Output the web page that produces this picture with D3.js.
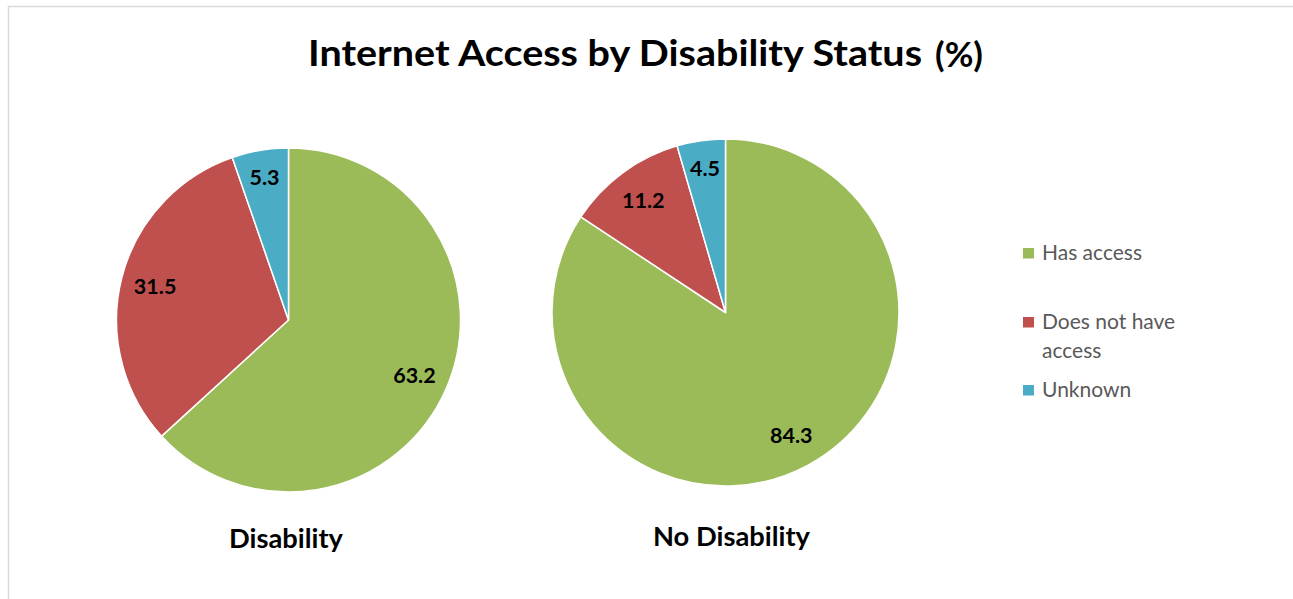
<!DOCTYPE html>
<html>
<head>
<meta charset="utf-8">
<script src="https://cdn.jsdelivr.net/npm/d3@7"></script>
<style>
  body { margin: 0; background: #fff; }
  svg { display: block; }
</style>
</head>
<body>
<svg id="chart" width="1293" height="599"></svg>
<script>
// Internet access shares (%) for each group
const categories = ["Has access", "Does not have access", "Unknown"];
const groups = ["Disability", "No Disability"];
const disabilityValues = [63.2, 31.5, 5.3];
const noDisabilityValues = [84.3, 11.2, 4.5];
const seriesColors = ["#9BBB59", "#C0504D", "#4BACC6"];
const legendLines = [["Has access"], ["Does not have", "access"], ["Unknown"]];
const titleText = "Internet Access by Disability Status";
const titleUnit = "(%)";

const svg = d3.select("#chart");
const font = "Lato, 'Open Sans', sans-serif";

// Chart area frame (light gray, open to the right and bottom)
svg.append("path")
  .attr("d", "M8.5,599 V6.5 H1293")
  .attr("fill", "none")
  .attr("stroke", "#d9d9d9")
  .attr("stroke-width", 1.5);

// Stretch/compress a text element to a given width
function fitWidth(sel, w) {
  const len = sel.node().getComputedTextLength();
  if (len > 0) sel.attr("textLength", w).attr("lengthAdjust", "spacingAndGlyphs");
}

// Title
const t1 = svg.append("text")
  .attr("x", 308).attr("y", 66)
  .attr("font-family", font).attr("font-weight", 700)
  .attr("font-size", 37).attr("fill", "#000")
  .text(titleText);
fitWidth(t1, 614);
const t2 = svg.append("text")
  .attr("x", 935).attr("y", 67)
  .attr("font-family", font).attr("font-weight", 700)
  .attr("font-size", 34).attr("fill", "#000")
  .text(titleUnit);
fitWidth(t2, 48);

const color = d3.scaleOrdinal().domain(categories).range(seriesColors);

const pie = d3.pie().sort(null).value(d => d.value);

const pies = [
  { name: groups[0], values: disabilityValues, cx: 288.5, cy: 320, r: 172, labelY: 548, labelW: 114, labelX: 286 },
  { name: groups[1], values: noDisabilityValues, cx: 725.5, cy: 312.5, r: 173.5, labelY: 546, labelW: 157, labelX: 731.5 }
];

pies.forEach(p => {
  const data = categories.map((c, i) => ({ category: c, value: p.values[i] }));
  const arcs = pie(data);
  const arc = d3.arc().innerRadius(0).outerRadius(p.r);
  const labelArc = d3.arc().innerRadius(p.r * 0.8).outerRadius(p.r * 0.8);

  const g = svg.append("g").attr("transform", `translate(${p.cx},${p.cy})`);

  g.selectAll("path.slice")
    .data(arcs)
    .join("path")
    .attr("class", "slice")
    .attr("d", arc)
    .attr("fill", d => color(d.data.category))
    .attr("stroke", "#fff")
    .attr("stroke-width", 1.5)
    .attr("stroke-linejoin", "round");

  g.selectAll("text.value")
    .data(arcs)
    .join("text")
    .attr("class", "value")
    .attr("transform", d => {
      const [x, y] = labelArc.centroid(d);
      const extra = d.data.value < 6 ? 1.05 : 1;
      return `translate(${x * extra},${y * extra})`;
    })
    .attr("text-anchor", "middle")
    .attr("dy", "0.36em")
    .attr("font-family", font)
    .attr("font-weight", 700)
    .attr("font-size", 21.5)
    .attr("fill", "#000")
    .text(d => d3.format(".1f")(d.data.value));

  const cap = svg.append("text")
    .attr("x", p.labelX - p.labelW / 2).attr("y", p.labelY)
    .attr("font-family", font).attr("font-weight", 700)
    .attr("font-size", 26).attr("fill", "#000")
    .text(p.name);
  fitWidth(cap, p.labelW);
});

// Legend
const legendBaselines = [260, 329, 397];
const legend = svg.append("g");
categories.forEach((c, i) => {
  const base = legendBaselines[i];
  legend.append("rect")
    .attr("x", 1023).attr("y", base - 12)
    .attr("width", 11).attr("height", 10.5)
    .attr("fill", color(c));
  const txt = legend.append("text")
    .attr("font-family", font)
    .attr("font-size", 21)
    .attr("fill", "#595959");
  legendLines[i].forEach((line, j) => {
    txt.append("tspan")
      .attr("x", 1042)
      .attr("y", base + j * 29)
      .text(line);
  });
});
</script>
</body>
</html>
